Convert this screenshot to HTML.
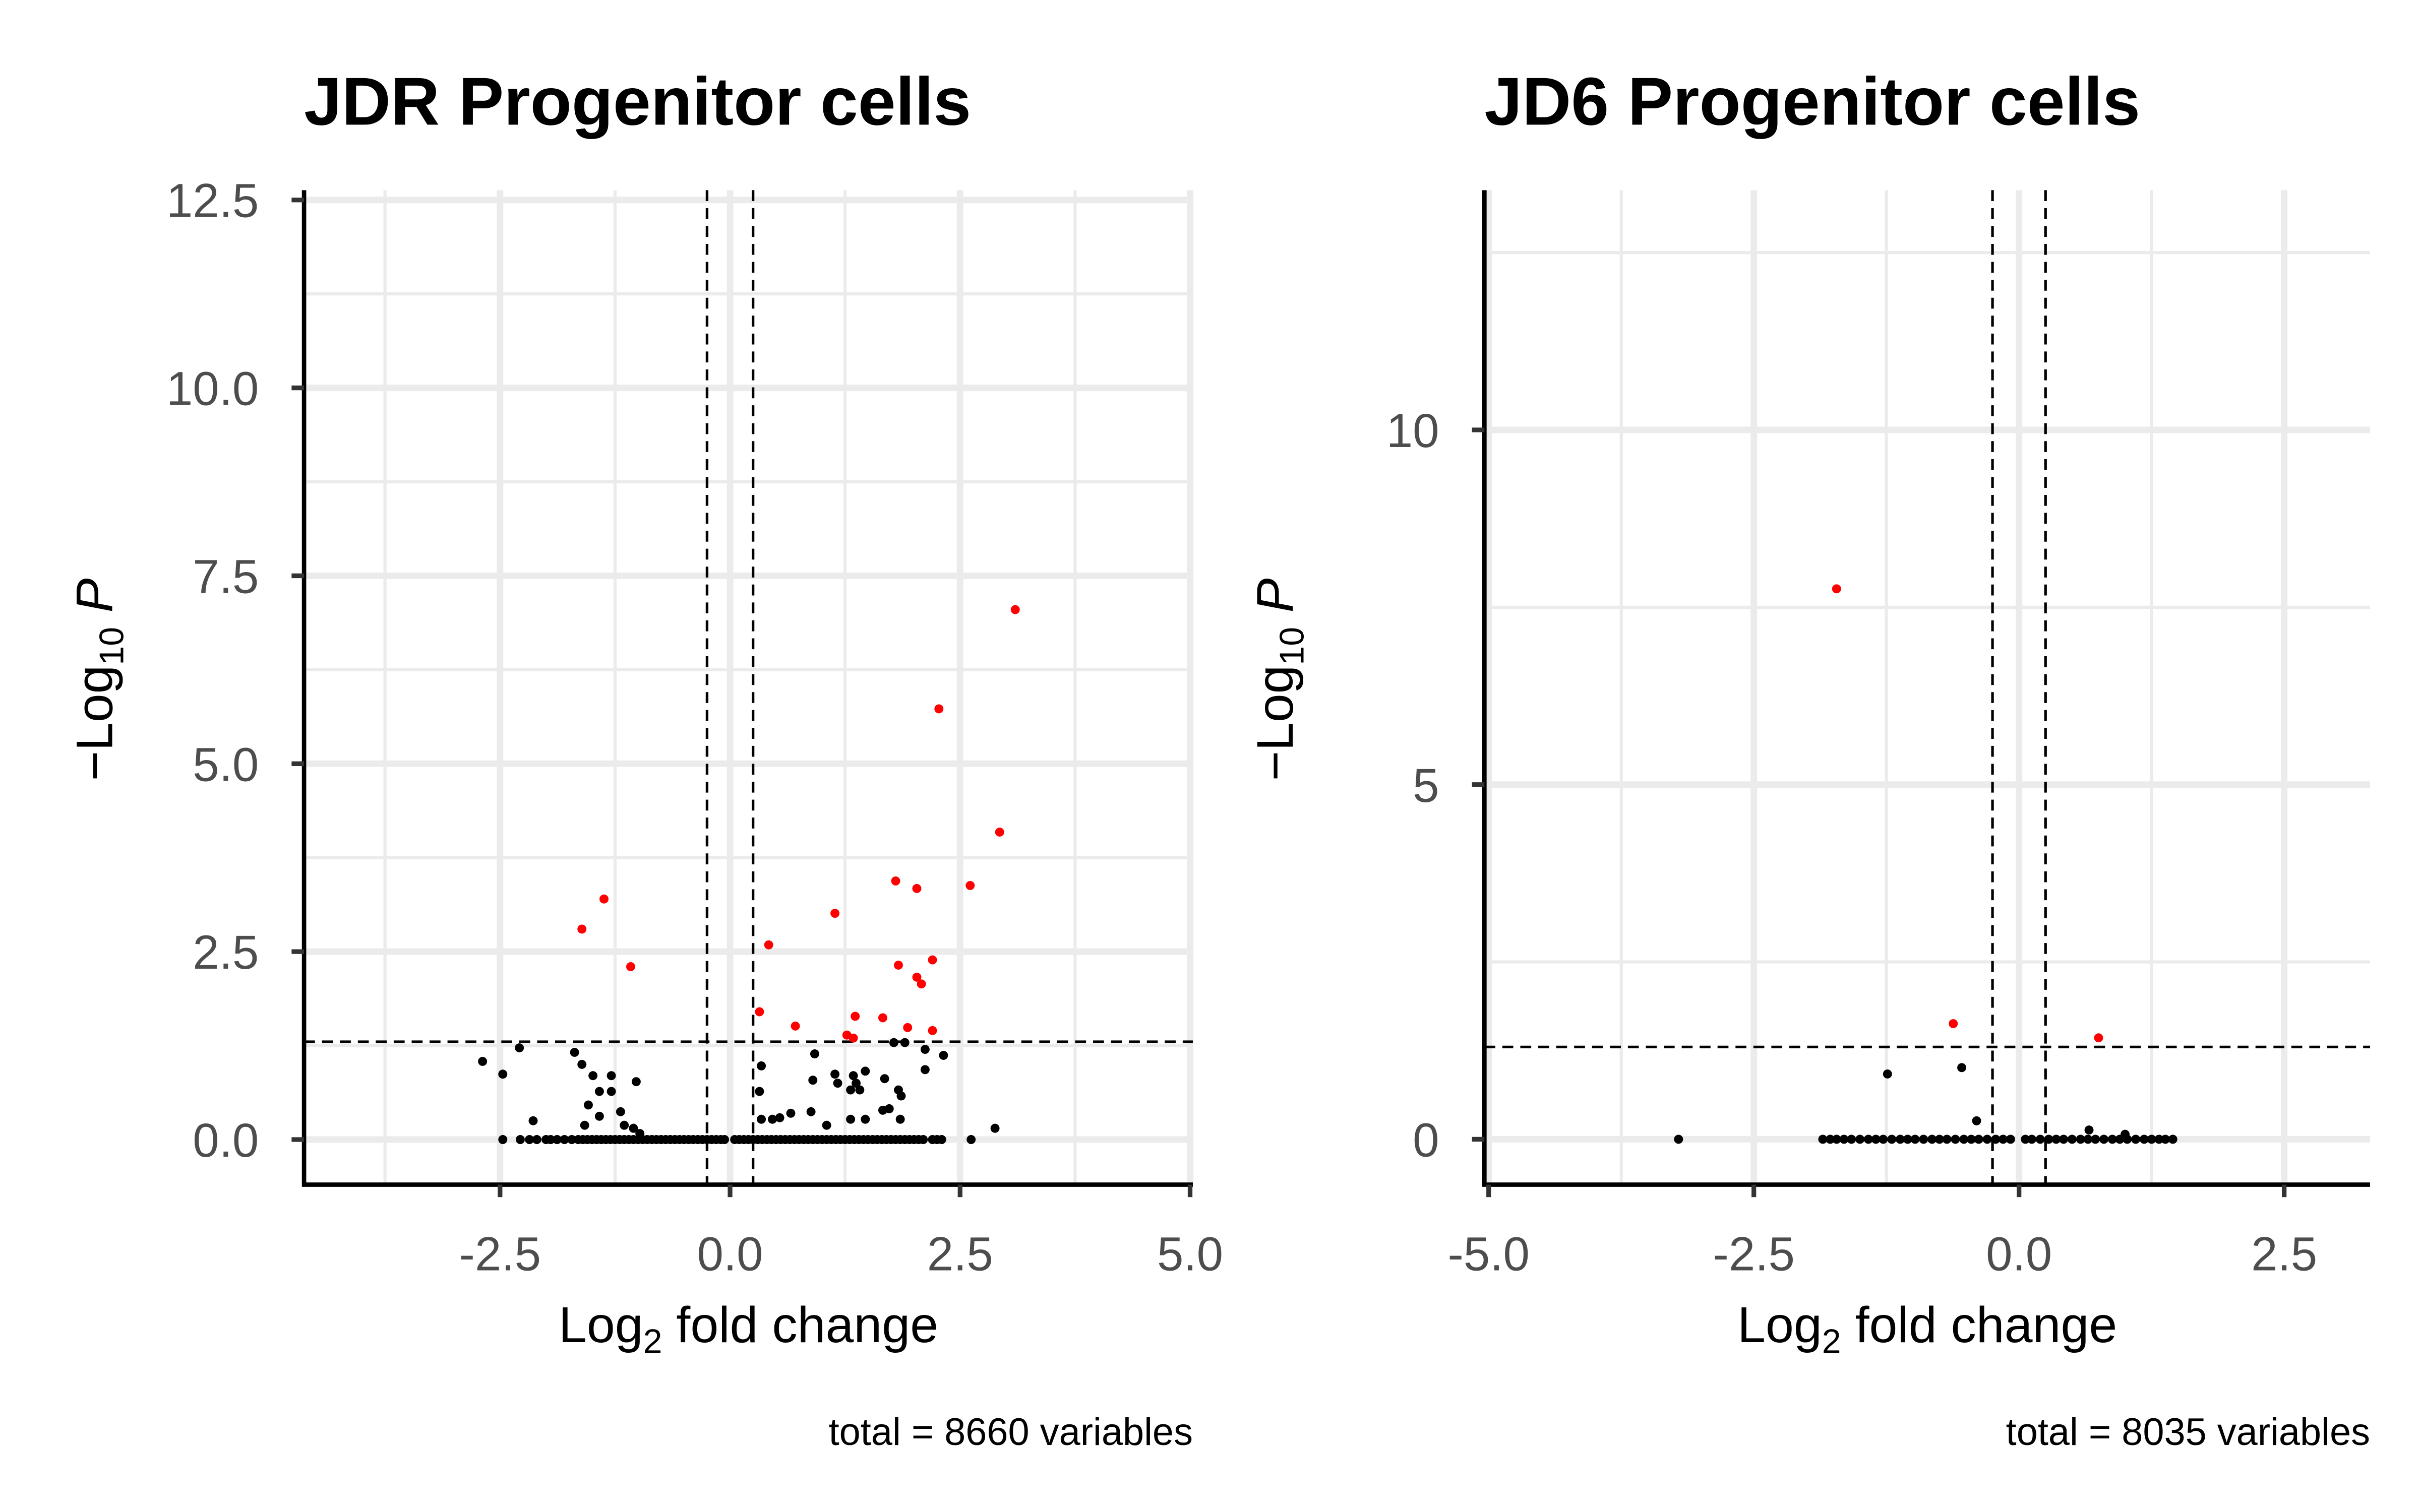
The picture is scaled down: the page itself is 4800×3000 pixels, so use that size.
<!DOCTYPE html>
<html><head><meta charset="utf-8"><style>
html,body{margin:0;padding:0;background:#fff;}
svg{display:block;font-family:"Liberation Sans",sans-serif;}
</style></head><body>
<svg id="chart" width="4800" height="3000" viewBox="0 0 1552 970" xmlns="http://www.w3.org/2000/svg"></svg>
<script>
// Panel 1 (JDR) data
const p1RedX = [3.10,2.27,2.93,1.80,2.03,2.61,-1.37,-1.61,1.14,0.42,-1.08,2.20,1.83,2.03,2.08,0.32,1.36,1.66,0.71,1.93,2.20,1.27,1.34];
const p1RedY = [7.05,5.73,4.09,3.44,3.34,3.38,3.20,2.80,3.01,2.59,2.30,2.39,2.32,2.16,2.07,1.70,1.64,1.62,1.51,1.49,1.45,1.39,1.35];
const p1BlackX = [-2.69,-2.47,-2.29,-1.69,-1.61,-1.49,-1.29,-1.02,-1.42,-1.29,-1.54,-1.42,-1.19,-2.14,-1.58,-1.15,-1.05,-0.98,0.34,0.32,0.34,0.46,0.54,0.66,0.88,1.05,0.90,0.92,1.14,1.17,1.34,1.37,1.41,1.31,1.47,1.31,1.47,1.68,1.66,1.73,1.83,1.86,1.85,1.78,1.90,2.12,2.12,2.32,2.88,
 -2.47,-2.28,-2.18,-2.1,-2.0,-1.95,-1.88,-1.8,-1.72,-1.65,-1.6,-1.55,-1.5,-1.45,-1.4,-1.35,-1.3,-1.25,-1.2,-1.15,-1.1,-1.05,-1.0,-0.95,-0.9,-0.85,-0.8,-0.75,-0.7,-0.65,-0.6,-0.55,-0.5,-0.45,-0.4,-0.35,-0.3,-0.25,-0.2,-0.15,-0.1,-0.06,
 0.05,0.1,0.15,0.2,0.25,0.3,0.35,0.4,0.45,0.5,0.55,0.6,0.65,0.7,0.75,0.8,0.85,0.9,0.95,1.0,1.05,1.1,1.15,1.2,1.25,1.3,1.35,1.4,1.45,1.5,1.55,1.6,1.65,1.7,1.75,1.8,1.85,1.9,1.95,2.0,2.05,2.1,2.2,2.25,2.3,2.62];
const p1BlackY = [1.04,0.87,1.22,1.16,1.0,0.85,0.85,0.77,0.64,0.64,0.46,0.31,0.37,0.25,0.19,0.19,0.15,0.08,0.98,0.64,0.27,0.27,0.29,0.35,0.37,0.19,0.79,1.14,0.87,0.75,0.85,0.75,0.66,0.66,0.91,0.27,0.27,0.81,0.39,0.41,0.66,0.58,0.27,1.29,1.29,1.20,0.93,1.12,0.15,
 0,0,0,0,0,0,0,0,0,0,0,0,0,0,0,0,0,0,0,0,0,0,0,0,0,0,0,0,0,0,0,0,0,0,0,0,0,0,0,0,0,0,
 0,0,0,0,0,0,0,0,0,0,0,0,0,0,0,0,0,0,0,0,0,0,0,0,0,0,0,0,0,0,0,0,0,0,0,0,0,0,0,0,0,0,0,0,0,0];
const p1XTicks = [-2.5,0,2.5,5];
const p1XTickLabels = ["-2.5","0.0","2.5","5.0"];
const p1YTicks = [0,2.5,5,7.5,10,12.5];
const p1YTickLabels = ["0.0","2.5","5.0","7.5","10.0","12.5"];

// Panel 2 (JD6) data
const p2RedX = [-1.72,-0.62,0.75];
const p2RedY = [7.76,1.63,1.43];
const p2BlackX = [-1.24,-0.54,-0.40,0.66,1.0,-3.21,
 -1.85,-1.78,-1.72,-1.65,-1.58,-1.5,-1.42,-1.35,-1.28,-1.2,-1.12,-1.05,-0.98,-0.9,-0.82,-0.75,-0.68,-0.6,-0.52,-0.45,-0.38,-0.3,-0.22,-0.15,-0.08,
 0.06,0.12,0.2,0.28,0.35,0.42,0.5,0.58,0.65,0.72,0.8,0.88,0.95,1.02,1.1,1.18,1.25,1.32,1.38,1.45];
const p2BlackY = [0.92,1.01,0.26,0.13,0.07,0,
 0,0,0,0,0,0,0,0,0,0,0,0,0,0,0,0,0,0,0,0,0,0,0,0,0,
 0,0,0,0,0,0,0,0,0,0,0,0,0,0,0,0,0,0,0,0];
const p2XTicks = [-5,-2.5,0,2.5];
const p2XTickLabels = ["-5.0","-2.5","0.0","2.5"];
const p2YTicks = [0,5,10];
const p2YTickLabels = ["0","5","10"];

const NS = "http://www.w3.org/2000/svg";
const svg = document.getElementById('chart');
function mk(tag, attrs, parent){
  const e = document.createElementNS(NS, tag);
  for (const k in attrs) e.setAttribute(k, attrs[k]);
  (parent||svg).appendChild(e); return e;
}

function panel(o){
  const g = mk('g', {});
  
  
  const xs = v => o.x0 + (v - o.xmin) / (o.xmax - o.xmin) * (o.x1 - o.x0);
  const ys = v => o.y1 - (v - o.ymin) / (o.ymax - o.ymin) * (o.y1 - o.y0);
  o.xMinor.forEach(v => { const l = mk('line',{x1:xs(v),x2:xs(v),y1:o.y0,y2:o.y1,stroke:'#ebebeb','stroke-width':2},g);
      });
  o.yMinor.forEach(v => { const l = mk('line',{x1:o.x0,x2:o.x1,y1:ys(v),y2:ys(v),stroke:'#ebebeb','stroke-width':2},g);
      });
  o.xTicks.forEach(v => { const l = mk('line',{x1:xs(v),x2:xs(v),y1:o.y0,y2:o.y1,stroke:'#ebebeb','stroke-width':4.2},g);
      });
  o.yTicks.forEach(v => { const l = mk('line',{x1:o.x0,x2:o.x1,y1:ys(v),y2:ys(v),stroke:'#ebebeb','stroke-width':4.2},g);
      });
  [-0.25,0.25].forEach(v => { const l = mk('line',{x1:xs(v),x2:xs(v),y1:o.y0,y2:o.y1,stroke:'#000','stroke-width':1.7,'stroke-dasharray':'7,4.5'},g);
      });
  const hl = mk('line',{x1:o.x0,x2:o.x1,y1:ys(1.30103),y2:ys(1.30103),stroke:'#000','stroke-width':1.7,'stroke-dasharray':'7,4.5'},g);
   
  o.bx.forEach((v,i) => { const c = mk('circle',{cx:xs(v),cy:ys(o.by[i]),r:2.9,fill:'#000'},g);
      });
  o.rx.forEach((v,i) => { const c = mk('circle',{cx:xs(v),cy:ys(o.ry[i]),r:2.9,fill:'#ff0000'},g);
      });
  const ya = mk('line',{x1:o.x0,x2:o.x0,y1:o.y0,y2:o.y1+1.3,stroke:'#000','stroke-width':2.8},g);
   
  const xa = mk('line',{x1:o.x0-1.3,x2:o.x1,y1:o.y1,y2:o.y1,stroke:'#000','stroke-width':2.8},g);
   
  o.xTicks.forEach((v,i) => {
    const t = mk('line',{x1:xs(v),x2:xs(v),y1:o.y1,y2:o.y1+8,stroke:'#333','stroke-width':3},g);
     
    const tx = mk('text',{x:xs(v),y:o.y1+55,'font-size':30.5,fill:'#4d4d4d','text-anchor':'middle'},g);
    tx.textContent = o.xLabels[i];
     
  });
  o.yTicks.forEach((v,i) => {
    const t = mk('line',{x1:o.x0-8,x2:o.x0,y1:ys(v),y2:ys(v),stroke:'#333','stroke-width':3},g);
     
    const tx = mk('text',{x:o.x0-29,y:ys(v)+11,'font-size':30.5,fill:'#4d4d4d','text-anchor':'end'},g);
    tx.textContent = o.yLabels[i];
     
  });
  const ti = mk('text',{x:o.x0,y:80,'font-size':43.5,'font-weight':'bold',fill:'#000'},g);
  ti.textContent = o.title;
   
  const xt = mk('text',{x:(o.x0+o.x1)/2,y:861,'font-size':32.5,fill:'#000','text-anchor':'middle'},g);
  xt.innerHTML = 'Log<tspan font-size="22" dy="7">2</tspan><tspan dy="-7"> fold change</tspan>';
   
  const yt = mk('text',{x:0,y:0,'font-size':33,fill:'#000','text-anchor':'middle',transform:`translate(${o.x0-123},436) rotate(-90)`},g);
  yt.innerHTML = '\u2212Log<tspan font-size="22" dy="7">10</tspan><tspan dy="-7" font-style="italic"> P</tspan>';
   
  const cap = mk('text',{x:o.x1,y:927,'font-size':24.5,fill:'#000','text-anchor':'end'},g);
  cap.textContent = o.caption;
   
}

panel({name:'jdr-panel', title:'JDR Progenitor cells', caption:'total = 8660 variables',
  x0:195, x1:765, y0:122, y1:760, xmin:-4.63, xmax:5.03, ymin:-0.6, ymax:12.63,
  xTicks:p1XTicks, xLabels:p1XTickLabels, yTicks:p1YTicks, yLabels:p1YTickLabels,
  xMinor:[-3.75,-1.25,1.25,3.75], yMinor:[1.25,3.75,6.25,8.75,11.25],
  rx:p1RedX, ry:p1RedY, bx:p1BlackX, by:p1BlackY});

panel({name:'jd6-panel', title:'JD6 Progenitor cells', caption:'total = 8035 variables',
  x0:952, x1:1520, y0:122, y1:760, xmin:-5.04, xmax:3.31, ymin:-0.64, ymax:13.38,
  xTicks:p2XTicks, xLabels:p2XTickLabels, yTicks:p2YTicks, yLabels:p2YTickLabels,
  xMinor:[-3.75,-1.25,1.25], yMinor:[2.5,7.5,12.5],
  rx:p2RedX, ry:p2RedY, bx:p2BlackX, by:p2BlackY});
</script>
</body></html>
